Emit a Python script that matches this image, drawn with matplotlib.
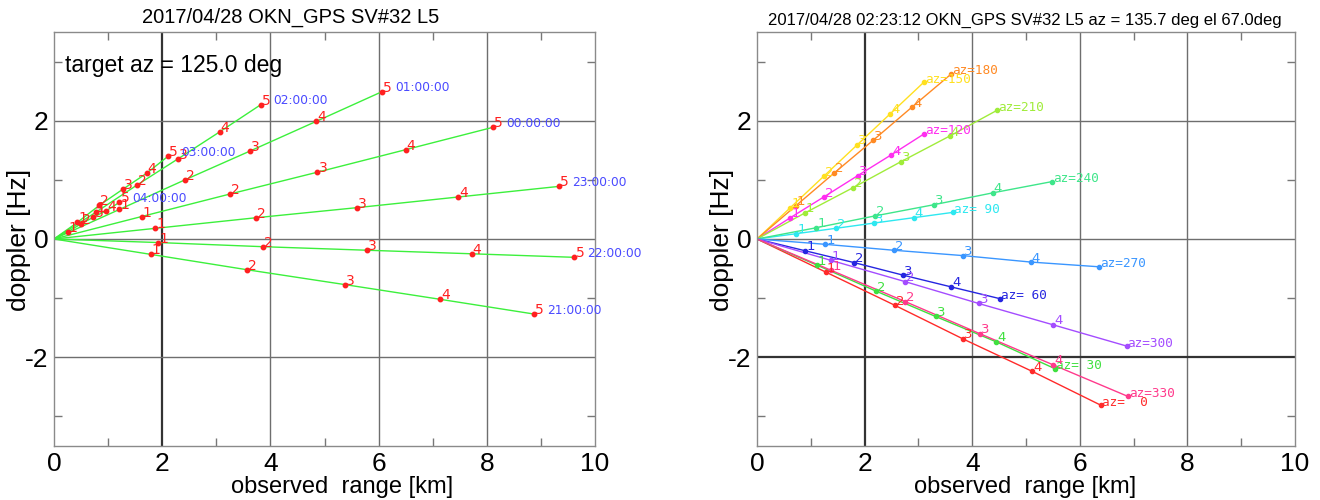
import matplotlib
matplotlib.use("Agg")
import matplotlib.pyplot as plt
from matplotlib.ticker import MultipleLocator

# ---------------- data: left panel (target az = 125.0 deg) ----------------
left_times = ["21:00:00", "22:00:00", "23:00:00", "00:00:00",
              "01:00:00", "02:00:00", "03:00:00", "04:00:00"]
left_x = [
    [1.79, 3.57, 5.37, 7.14, 8.88],
    [1.93, 3.86, 5.79, 7.72, 9.62],
    [1.87, 3.74, 5.60, 7.47, 9.34],
    [1.62, 3.25, 4.87, 6.50, 8.12],
    [1.21, 2.42, 3.63, 4.85, 6.06],
    [0.77, 1.53, 2.30, 3.06, 3.82],
    [0.43, 0.84, 1.27, 1.71, 2.11],
    [0.25, 0.49, 0.73, 0.97, 1.21],
]
left_y = [
    [-0.26, -0.52, -0.77, -1.02, -1.27],
    [-0.06, -0.13, -0.19, -0.25, -0.31],
    [0.18, 0.36, 0.53, 0.71, 0.89],
    [0.38, 0.76, 1.13, 1.51, 1.89],
    [0.50, 1.00, 1.49, 1.99, 2.49],
    [0.45, 0.91, 1.36, 1.81, 2.27],
    [0.28, 0.57, 0.84, 1.11, 1.40],
    [0.12, 0.25, 0.37, 0.48, 0.62],
]

# ---------------- data: right panel (az sweep) ----------------
right_az = [0, 30, 60, 90, 120, 150, 180, 210, 240, 270, 300, 330]
right_x = [
    [1.28, 2.56, 3.83, 5.12, 6.39],
    [1.11, 2.21, 3.32, 4.45, 5.53],
    [0.90, 1.81, 2.71, 3.61, 4.52],
    [0.73, 1.46, 2.18, 2.91, 3.64],
    [0.62, 1.24, 1.87, 2.49, 3.11],
    [0.62, 1.24, 1.86, 2.48, 3.10],
    [0.72, 1.44, 2.16, 2.88, 3.61],
    [0.89, 1.79, 2.68, 3.58, 4.47],
    [1.10, 2.19, 3.29, 4.38, 5.48],
    [1.27, 2.54, 3.82, 5.09, 6.36],
    [1.37, 2.75, 4.12, 5.50, 6.87],
    [1.38, 2.76, 4.14, 5.51, 6.89],
]
right_y = [
    [-0.56, -1.12, -1.69, -2.24, -2.81],
    [-0.44, -0.88, -1.31, -1.74, -2.19],
    [-0.20, -0.40, -0.61, -0.81, -1.01],
    [0.09, 0.18, 0.27, 0.36, 0.45],
    [0.36, 0.71, 1.07, 1.42, 1.78],
    [0.53, 1.06, 1.59, 2.12, 2.65],
    [0.56, 1.12, 1.67, 2.23, 2.79],
    [0.44, 0.87, 1.31, 1.74, 2.18],
    [0.19, 0.39, 0.58, 0.78, 0.97],
    [-0.09, -0.19, -0.28, -0.39, -0.47],
    [-0.36, -0.72, -1.09, -1.45, -1.81],
    [-0.53, -1.06, -1.60, -2.13, -2.66],
]
right_colors = ["#ff2a2a", "#3fe03f", "#2626e0", "#2ee8f0", "#ff2ef0", "#ffe020",
                "#ff8a24", "#a0ec3a", "#3ee68a", "#3a96ff", "#a44cff", "#ff3a8c"]

xticks = [0, 2, 4, 6, 8, 10]
yticks = [-2, 0, 2]

left_title = "2017/04/28 OKN_GPS SV#32 L5"
right_title = "2017/04/28 02:23:12 OKN_GPS SV#32 L5 az = 135.7 deg el 67.0deg"
target_text = "target az = 125.0 deg"

SANS = ["Liberation Sans", "DejaVu Sans"]
plt.rcParams["font.family"] = SANS

W, H = 1320, 500
fig = plt.figure(figsize=(W / 100, H / 100), dpi=100)

def px_ax(x0, x1, y0, y1):
    return fig.add_axes([x0 / W, 1 - y1 / H, (x1 - x0) / W, (y1 - y0) / H])

axL = px_ax(54, 595, 32, 446)
axR = px_ax(757, 1295, 32, 446)

def style(ax, dark_x, dark_y):
    ax.set_xlim(0, 10)
    ax.set_ylim(-3.5, 3.5)
    ax.xaxis.set_major_locator(MultipleLocator(2))
    ax.xaxis.set_minor_locator(MultipleLocator(1))
    ax.yaxis.set_major_locator(MultipleLocator(2))
    ax.yaxis.set_minor_locator(MultipleLocator(1))
    ax.set_xticks(xticks)
    ax.set_yticks(yticks)
    ax.set_xticklabels([str(t) for t in xticks], fontsize=19)
    ax.set_yticklabels([str(t) for t in yticks], fontsize=19)
    ax.tick_params(which="both", direction="in", top=True, right=True,
                   color="#777777", width=1)
    ax.tick_params(which="major", length=0, pad=4)
    ax.tick_params(which="minor", length=6)
    for s in ax.spines.values():
        s.set_color("#8a8a8a")
        s.set_linewidth(1.0)
    for gx in [2, 4, 6, 8]:
        if gx == dark_x:
            ax.axvline(gx, color="#333333", lw=1.6, zorder=1)
        else:
            ax.axvline(gx, color="#6e6e6e", lw=1.0, zorder=1)
    for gy in [-2, 0, 2]:
        if gy == dark_y:
            ax.axhline(gy, color="#333333", lw=1.6, zorder=1)
        else:
            ax.axhline(gy, color="#6e6e6e", lw=1.0, zorder=1)

style(axL, 2, None)
style(axR, 2, -2)

# ---- left panel ----
green = "#3cf03c"
red = "#ff2020"
blue = "#4a4aff"
for t, xs, ys in zip(left_times, left_x, left_y):
    axL.plot([0] + xs, [0] + ys, color=green, lw=1.0, zorder=2)
    axL.plot(xs, ys, "o", color=red, ms=3.2, mec=red, zorder=3)
    for i, (x, y) in enumerate(zip(xs, ys)):
        axL.annotate(str(i + 1), (x, y), xytext=(1, 4), textcoords="offset pixels",
                     ha="left", va="center", color=red, fontsize=10,
                     family="DejaVu Sans", zorder=4)
    axL.annotate(t, (xs[-1], ys[-1]), xytext=(13, 4), textcoords="offset pixels",
                 ha="left", va="center", color=blue, fontsize=8.8,
                 family="DejaVu Sans", zorder=4)

axL.text(0.02, 0.918, target_text, transform=axL.transAxes, fontsize=16.5,
         ha="left", va="center", color="black")

# ---- right panel ----
for az, xs, ys, c in zip(right_az, right_x, right_y, right_colors):
    axR.plot([0] + xs, [0] + ys, color=c, lw=1.0, zorder=2)
    axR.plot(xs, ys, "o", color=c, ms=3.0, mec=c, zorder=3)
    for i, (x, y) in enumerate(zip(xs[:-1], ys[:-1])):
        axR.annotate(str(i + 1), (x, y), xytext=(1, 4), textcoords="offset pixels",
                     ha="left", va="center", color=c, fontsize=9.5,
                     family="DejaVu Sans", zorder=4)
    axR.annotate("az=%3d" % az, (xs[-1], ys[-1]), xytext=(1, 3),
                 textcoords="offset pixels", ha="left", va="center", color=c,
                 fontsize=9.2, family="DejaVu Sans Mono", zorder=4)

# ---- titles and labels ----
fig.text(291 / W, 1 - 17 / H, left_title, ha="center", va="center", fontsize=14.5)
fig.text(1025 / W, 1 - 20 / H, right_title, ha="center", va="center", fontsize=12)
fig.text(342 / W, 1 - 487 / H, "observed  range [km]", ha="center", va="center", fontsize=17)
fig.text(1025 / W, 1 - 487 / H, "observed  range [km]", ha="center", va="center", fontsize=17)
fig.text(19 / W, 1 - 240 / H, "doppler [Hz]", ha="center", va="center",
         rotation=90, fontsize=19)
fig.text(722 / W, 1 - 240 / H, "doppler [Hz]", ha="center", va="center",
         rotation=90, fontsize=19)

fig.savefig("out.png", dpi=100)
